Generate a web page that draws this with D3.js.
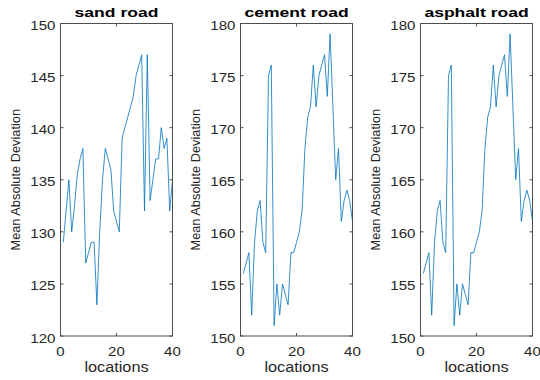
<html>
<head>
<script src="https://d3js.org/d3.v7.min.js"></script>
<style>
  body { margin: 0; background: #fff; }
  text { font-family: "Liberation Sans", Arial, sans-serif; }
</style>
</head>
<body>
<script>
// values per location (1..40)
var sand = [129, 132, 135, 130, 132.5, 135.5, 137, 138, 127, 128,
            129, 129, 123, 130, 135, 138, 137, 136, 132, 131,
            130, 139, 140, 141, 142, 143, 145, 146, 147, 132,
            147, 133, 135, 137, 137, 140, 138, 139, 132, 135];
var cement = [156, 157, 158, 152, 159, 162, 163, 159, 158, 175,
              176, 151, 155, 152, 155, 154, 153, 158, 158, 159,
              160, 162, 168, 171, 172, 176, 172, 175, 176, 177,
              173, 179, 172, 165, 168, 161, 163, 164, 163, 161];
var asphalt = [156, 157, 158, 152, 159, 162, 163, 159, 158, 175,
               176, 151, 155, 152, 155, 154, 153, 158, 158, 159,
               160, 162, 168, 171, 172, 176, 172, 175, 176, 177,
               173, 179, 172, 165, 168, 161, 163, 164, 163, 161];

var titles = ["sand road", "cement road", "asphalt road"];
var yDomains = [[120, 150], [150, 180], [150, 180]];
var yTicks = [[120, 125, 130, 135, 140, 145, 150],
              [150, 155, 160, 165, 170, 175, 180],
              [150, 155, 160, 165, 170, 175, 180]];
var xTicks = [0, 20, 40];
var series = [sand, cement, asphalt];

var svg = d3.select("body").append("svg")
    .attr("width", 540).attr("height", 380);

var panelLeft = [60.5, 240.5, 420.5];
var plotW = 112, plotTop = 23.5, plotH = 312.5;
var axisColor = "#4d4d4d";
var stretch = 1.16;   // picture looks stretched sideways

// horizontal text, widened a bit like the reference
function label(g, x, y, str, size, anchor, sx, weight, color) {
  return g.append("text")
      .attr("transform", "translate(" + x + "," + y + ") scale(" + sx + ",1)")
      .attr("text-anchor", anchor)
      .attr("font-size", size)
      .attr("font-weight", weight || "normal")
      .attr("fill", color || "#262626")
      .text(str);
}

series.forEach(function(vals, p) {
  var g = svg.append("g").attr("transform", "translate(" + panelLeft[p] + "," + plotTop + ")");
  var x = d3.scaleLinear().domain([0, 40]).range([0, plotW]);
  var y = d3.scaleLinear().domain(yDomains[p]).range([plotH, 0]);

  // data line
  var line = d3.line()
      .x(function(d, i) { return x(i + 1); })
      .y(function(d) { return y(d); });
  g.append("path").datum(vals)
      .attr("d", line)
      .attr("fill", "none")
      .attr("stroke", "#0072BD")
      .attr("stroke-width", 0.8);

  // box
  g.append("rect").attr("width", plotW).attr("height", plotH)
      .attr("fill", "none").attr("stroke", axisColor).attr("stroke-width", 1);

  // ticks inward on all sides
  var tl = 3;
  yTicks[p].forEach(function(t) {
    g.append("line").attr("x1", 0).attr("x2", tl).attr("y1", y(t)).attr("y2", y(t))
        .attr("stroke", axisColor);
    g.append("line").attr("x1", plotW).attr("x2", plotW - tl).attr("y1", y(t)).attr("y2", y(t))
        .attr("stroke", axisColor);
    label(g, -5, y(t) + 6.5, t, 13, "end", stretch);
  });
  xTicks.forEach(function(t) {
    g.append("line").attr("x1", x(t)).attr("x2", x(t)).attr("y1", plotH).attr("y2", plotH - tl)
        .attr("stroke", axisColor);
    g.append("line").attr("x1", x(t)).attr("x2", x(t)).attr("y1", 0).attr("y2", tl)
        .attr("stroke", axisColor);
    label(g, x(t), plotH + 19.5, t, 13, "middle", stretch);
  });

  // title
  label(g, plotW / 2, -7, titles[p], 13.5, "middle", 1.3, "bold", "#000");
  // x label
  label(g, plotW / 2, plotH + 36, "locations", 14, "middle", stretch);
  // y label
  g.append("text")
      .attr("transform", "translate(-40.5," + (plotH / 2) + ") rotate(-90)")
      .attr("text-anchor", "middle").attr("font-size", 12.8).attr("fill", "#262626")
      .text("Mean Absolute Deviation");
});
</script>
</body>
</html>
